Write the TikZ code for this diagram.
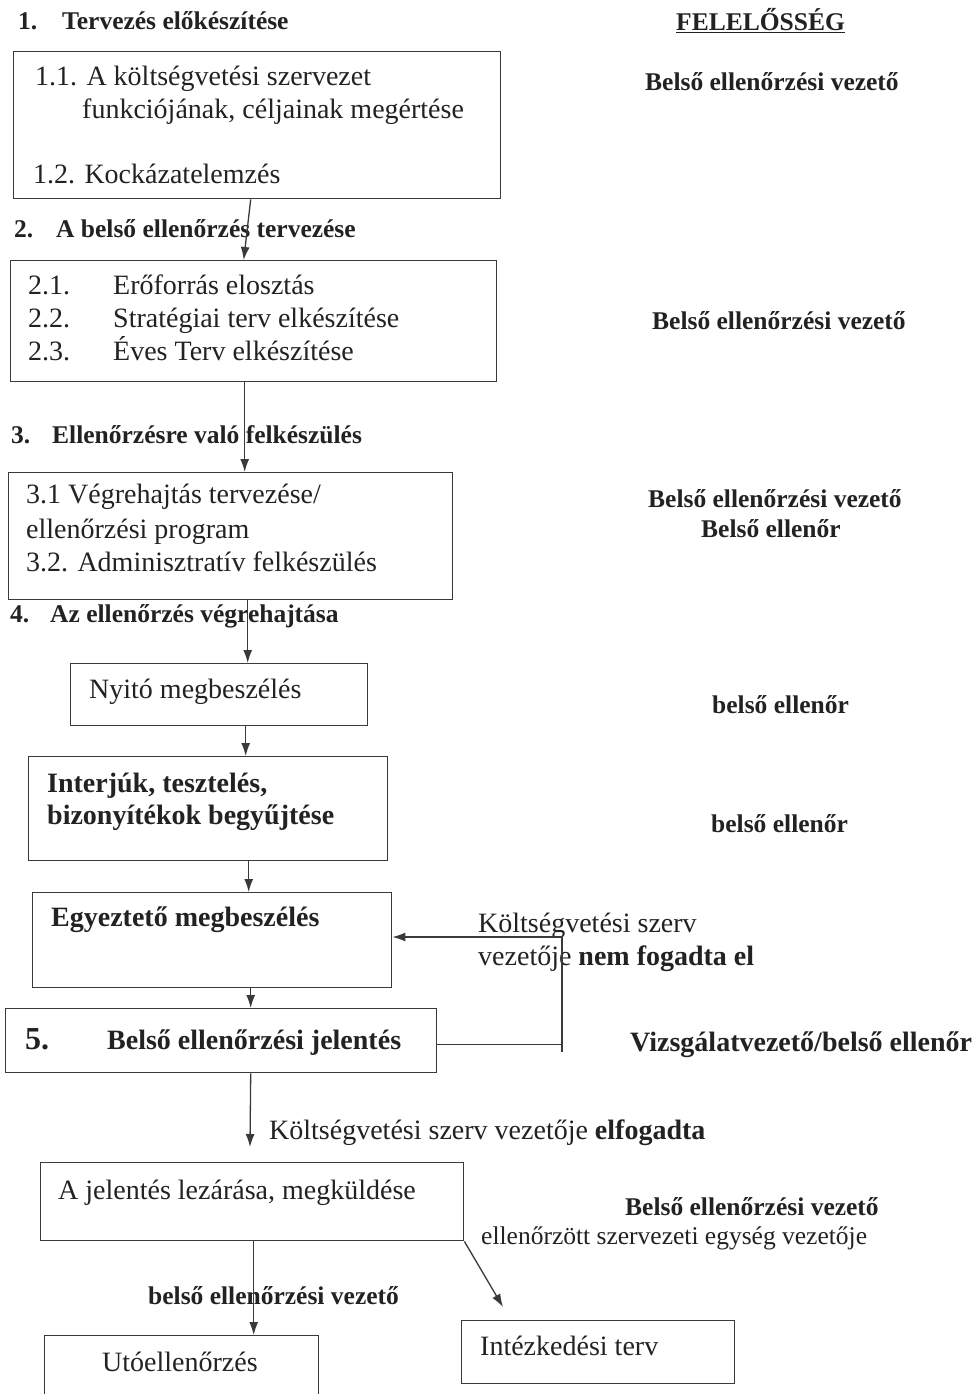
\documentclass[tikz,border=0pt]{standalone}
\usepackage{fontspec}
\setmainfont{Liberation Serif}
\usetikzlibrary{arrows.meta,calc}
\definecolor{ink}{HTML}{222222}
\definecolor{edge}{HTML}{3A3A3A}
\begin{document}
\begin{tikzpicture}[x=1pt,y=-1pt,
  boxnode/.style={draw=edge,line width=1.4pt,anchor=north west,inner sep=0pt},
  arr/.style={draw=edge,line width=1.3pt,-{Latex[length=13pt,width=9pt]}},
  ln/.style={draw=edge,line width=1.3pt},
  txt/.style={anchor=base west,inner sep=0pt,text=ink,font=\fontsize{28}{30}\selectfont},
  btxt/.style={anchor=base west,inner sep=0pt,text=ink,font=\fontsize{28}{30}\selectfont\bfseries},
  hdr/.style={anchor=base west,inner sep=0pt,text=ink,font=\fontsize{25.5}{28}\selectfont\bfseries},
  stxt/.style={anchor=base west,inner sep=0pt,text=ink,font=\fontsize{25.5}{28}\selectfont}]
\useasboundingbox[fill=white] (0,0) rectangle (974,1394);

% boxes
\node[boxnode,minimum width=487pt,minimum height=147pt] (b1) at (13,51) {};
\node[boxnode,minimum width=486pt,minimum height=121pt] (b2) at (10,260) {};
\node[boxnode,minimum width=444pt,minimum height=127pt] (b3) at (8,472) {};
\node[boxnode,minimum width=297pt,minimum height=62pt] (b4) at (70,663) {};
\node[boxnode,minimum width=359pt,minimum height=104pt] (b5) at (28,756) {};
\node[boxnode,minimum width=359pt,minimum height=95pt] (b6) at (32,892) {};
\node[boxnode,minimum width=431pt,minimum height=64pt] (b7) at (5,1008) {};
\node[boxnode,minimum width=423pt,minimum height=78pt] (b8) at (40,1162) {};
\node[boxnode,minimum width=274pt,minimum height=75pt] (b9) at (44,1335) {};
\node[boxnode,minimum width=273pt,minimum height=63pt] (b10) at (461,1320) {};

% headings
\node[hdr] (h1n) at (18,30) {1.};
\node[hdr] (h1) at (62,30) {Tervezés előkészítése};
\node[hdr] (fel) at (676,31) {\underline{FELELŐSSÉG}};
\node[hdr] (h2n) at (14,237) {2.};
\node[hdr] (h2) at (56,237) {A belső ellenőrzés tervezése};
\node[hdr] (h3n) at (11,443) {3.};
\node[hdr] (h3) at (52,443) {Ellenőrzésre való felkészülés};
\node[hdr] (h4n) at (10,622) {4.};
\node[hdr] (h4) at (50,622) {Az ellenőrzés végrehajtása};

% box texts
\node[txt] (t11) at (35,86) {1.1. A költségvetési szervezet};
\node[txt] (t11b) at (82,118) {funkciójának, céljainak megértése};
\node[txt] (t12) at (33,183) {1.2. Kockázatelemzés};
\node[txt] (t21n) at (28,294) {2.1.};
\node[txt] (t21) at (113,294) {Erőforrás elosztás};
\node[txt] (t22n) at (28,327) {2.2.};
\node[txt] (t22) at (113,327) {Stratégiai terv elkészítése};
\node[txt] (t23n) at (28,360) {2.3.};
\node[txt] (t23) at (113,360) {Éves Terv elkészítése};
\node[txt] (t31) at (26,503) {3.1 Végrehajtás tervezése/};
\node[txt] (t31b) at (26,538) {ellenőrzési program};
\node[txt] (t32) at (26,571) {3.2. Adminisztratív felkészülés};
\node[txt] (tny) at (89,698) {Nyitó megbeszélés};
\node[btxt] (tin) at (47,792) {Interjúk, tesztelés,};
\node[btxt] (tinb) at (47,824) {bizonyítékok begyűjtése};
\node[btxt] (teg) at (51,926) {Egyeztető megbeszélés};
\node[anchor=base west,inner sep=0pt,text=ink,font=\fontsize{32}{34}\selectfont\bfseries] (t5n) at (25,1049) {5.};
\node[btxt] (t5) at (107,1049) {Belső ellenőrzési jelentés};
\node[txt] (tjel) at (58,1199) {A jelentés lezárása, megküldése};
\node[txt] (tuto) at (102,1371) {Utóellenőrzés};
\node[txt] (tint) at (480,1355) {Intézkedési terv};

% responsibility labels
\node[hdr] (r1) at (645,91) {Belső ellenőrzési vezető};
\node[hdr] (r2) at (652,329) {Belső ellenőrzési vezető};
\node[hdr] (r3) at (648,507) {Belső ellenőrzési vezető};
\node[hdr] (r3b) at (701,537) {Belső ellenőr};
\node[hdr] (r4) at (712,713) {belső ellenőr};
\node[hdr] (r5) at (711,832) {belső ellenőr};
\node[btxt] (r7) at (630,1051) {Vizsgálatvezető/belső ellenőr};
\node[hdr] (r8) at (625,1215) {Belső ellenőrzési vezető};
\node[stxt] (r8b) at (481,1244) {ellenőrzött szervezeti egység vezetője};
\node[hdr] (r9) at (148,1304) {belső ellenőrzési vezető};

% connector labels
\node[txt] (nf1) at (478,932) {Költségvetési szerv};
\node[txt] (nf2) at (478,965) {vezetője \textbf{nem fogadta el}};
\node[txt] (elf) at (269,1139) {Költségvetési szerv vezetője \textbf{elfogadta}};

% connectors
\draw[arr] ([xshift=-6.5pt]b1.south) -- ([xshift=-10pt]b2.north);
\draw[arr] ([xshift=-9pt]b2.south) -- ([xshift=14pt]b3.north);
\draw[arr] ([xshift=17pt]b3.south) -- ([xshift=28.5pt]b4.north);
\draw[arr] ([xshift=26.5pt]b4.south) -- ([xshift=37.5pt]b5.north);
\draw[arr] ([xshift=40.5pt]b5.south) -- ([xshift=36.5pt]b6.north);
\draw[arr] ([xshift=38.5pt]b6.south) -- ([xshift=29.5pt]b7.north);
\coordinate (acc) at (250,1147);
\draw[arr] ([xshift=29.5pt]b7.south) -- (acc);
\coordinate (fb) at (562,937);
\coordinate (fbend) at (562,1052);
\draw[ln] ([yshift=-4pt]b7.east) -- ([yshift=-4pt]b7.east -| fb);
\draw[ln] (fb) -- (fbend);
\draw[arr] (fb) -- (fb -| b6.east);
\draw[arr] ([xshift=1.5pt]b8.south) -- ([xshift=72pt]b9.north);
\coordinate (diag) at (503,1307);
\draw[arr] (b8.south east) -- (diag);
\end{tikzpicture}
\end{document}
